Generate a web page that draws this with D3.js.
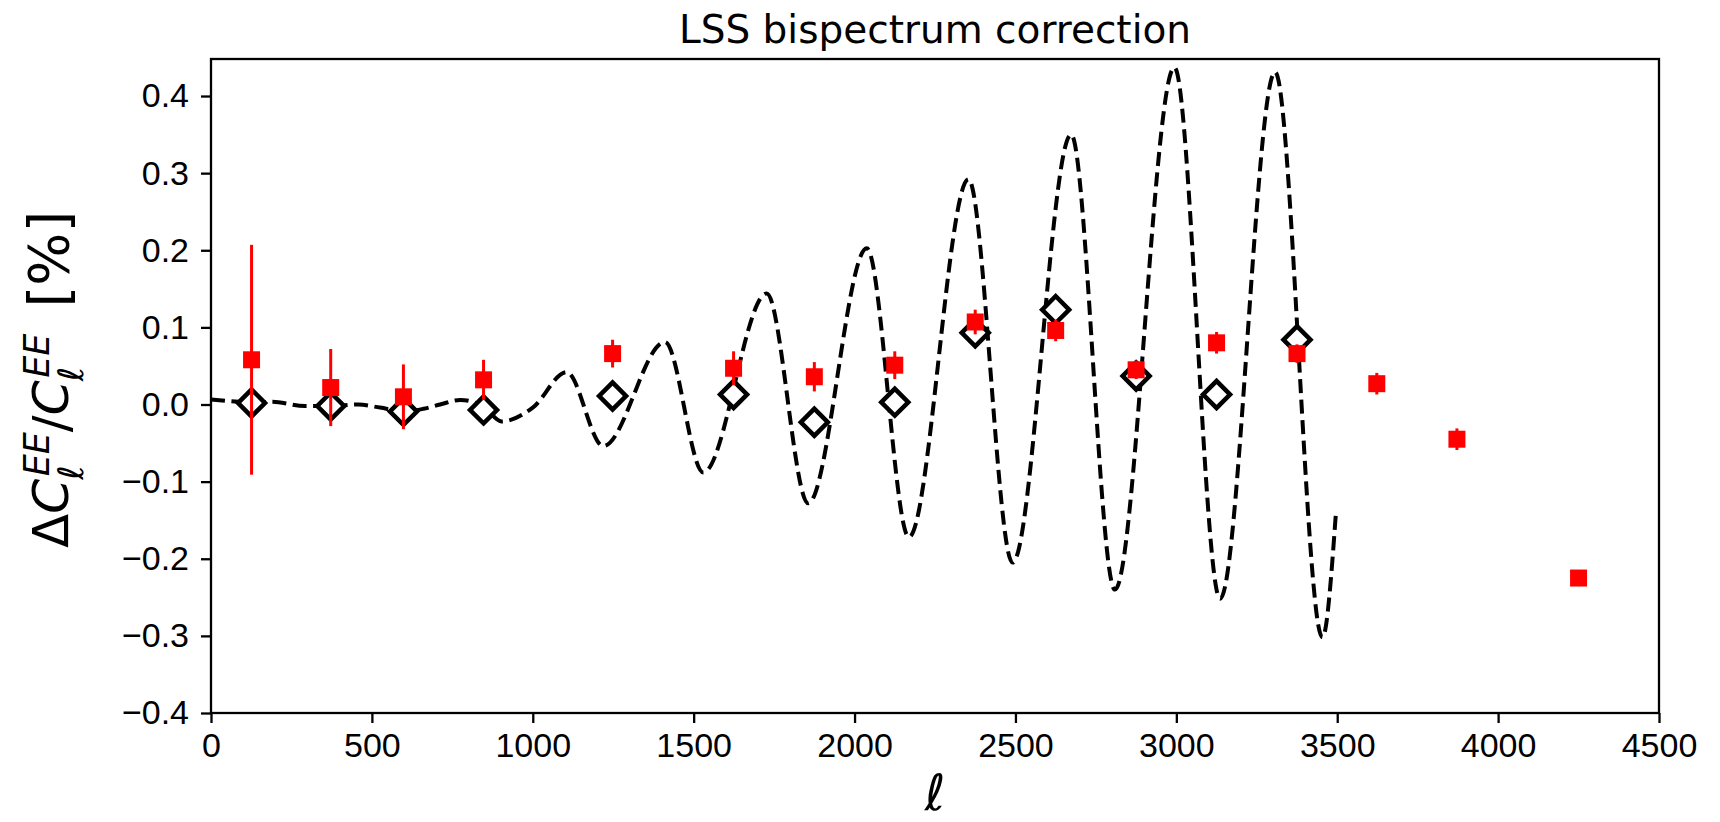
<!DOCTYPE html>
<html lang="en">
<head>
<meta charset="UTF-8">
<title>LSS bispectrum correction</title>
<script src="https://d3js.org/d3.v7.min.js"></script>
<style>
  body { margin: 0; background: #fff; }
  svg { display: block; font-family: "DejaVu Sans", sans-serif; }
  .tick text { font-size: 34px; fill: #000; }
  .tick line { stroke: #000; stroke-width: 2.3; }
</style>
</head>
<body>
<div id="chart"></div>
<script>
// multipole bin centres, shared by the measured points and the diamonds
const binEll = [126, 372, 598, 847, 1248, 1624, 1875, 2125, 2375, 2625, 2875, 3125, 3375, 3623, 3872, 4250];
// red squares with error bars
const measured    = [0.058, 0.022, 0.010, 0.032, 0.066, 0.047, 0.036, 0.051, 0.107, 0.096, 0.045, 0.080, 0.066, 0.027, -0.045, -0.225];
const measuredErr = [0.149, 0.050, 0.042, 0.026, 0.018, 0.022, 0.019, 0.018, 0.016, 0.014, 0.012, 0.014, 0.012, 0.014, 0.014, 0.008];
// open diamonds (binned prediction), first 13 bins only
const predicted = [0.002, -0.002, -0.009, -0.007, 0.011, 0.013, -0.023, 0.003, 0.093, 0.123, 0.037, 0.013, 0.084];
const theoryEll = [0, 126, 190, 292, 375, 458, 525, 600, 660, 712, 775, 850, 903, 1000, 1105, 1219, 1411, 1530, 1727, 1856, 2038, 2169, 2354, 2491, 2673, 2809, 2994, 3136, 3307, 3454, 3496];
const theoryVal = [0.0065, 0.003, 0.0035, -0.002, -0.002, 0.0, -0.004, -0.009, -0.0056, 0.0, 0.006, -0.004, -0.022, -0.004, 0.042, -0.054, 0.081, -0.088, 0.144, -0.128, 0.2025, -0.172, 0.292, -0.205, 0.350, -0.240, 0.437, -0.252, 0.431, -0.302, -0.140];

const xTicks = [0, 500, 1000, 1500, 2000, 2500, 3000, 3500, 4000, 4500];
const yTicks = [-0.4, -0.3, -0.2, -0.1, 0.0, 0.1, 0.2, 0.3, 0.4];

const W = 1720, H = 822;
const margin = {top: 59, right: 61, bottom: 109, left: 211};
const width = W - margin.left - margin.right,
      height = H - margin.top - margin.bottom;

const x = d3.scaleLinear().domain([0, 4500]).range([0, width]);
const y = d3.scaleLinear().domain([-0.4, 0.448]).range([height, 0]);

const svg = d3.select("#chart").append("svg")
    .attr("width", W).attr("height", H);
const g = svg.append("g")
    .attr("transform", "translate(" + margin.left + "," + margin.top + ")");

// theory curve
const theory = theoryEll.map((l, i) => ({l: l, v: theoryVal[i]}));
const line = d3.line()
    .x(d => x(d.l))
    .y(d => y(d.v))
    .curve(d3.curveMonotoneX);
g.append("path")
    .datum(theory)
    .attr("d", line)
    .attr("fill", "none")
    .attr("stroke", "#000")
    .attr("stroke-width", 4)
    .attr("stroke-dasharray", "14,6.5");

// diamonds
const diamond = d3.symbol().type(d3.symbolSquare).size(364);
g.selectAll(".pred")
    .data(predicted)
    .enter().append("path")
    .attr("class", "pred")
    .attr("d", diamond)
    .attr("transform", (d, i) => "translate(" + x(binEll[i]) + "," + y(d) + ") rotate(45)")
    .attr("fill", "#fff")
    .attr("stroke", "#000")
    .attr("stroke-width", 4.5);

// measured points with error bars
g.selectAll(".err")
    .data(measured)
    .enter().append("line")
    .attr("class", "err")
    .attr("x1", (d, i) => x(binEll[i]))
    .attr("x2", (d, i) => x(binEll[i]))
    .attr("y1", (d, i) => y(d - measuredErr[i]))
    .attr("y2", (d, i) => y(d + measuredErr[i]))
    .attr("stroke", "#ff0000")
    .attr("stroke-width", 3);

const square = d3.symbol().type(d3.symbolSquare).size(289);
g.selectAll(".meas")
    .data(measured)
    .enter().append("path")
    .attr("class", "meas")
    .attr("d", square)
    .attr("transform", (d, i) => "translate(" + x(binEll[i]) + "," + y(d) + ")")
    .attr("fill", "#ff0000");

// axes
g.append("g")
    .attr("transform", "translate(0," + height + ")")
    .call(d3.axisBottom(x).tickValues(xTicks).tickSize(10).tickPadding(10).tickFormat(d3.format("d")))
    .call(a => a.select(".domain").remove());

g.append("g")
    .call(d3.axisLeft(y).tickValues(yTicks).tickSize(10).tickPadding(12).tickFormat(d3.format(".1f")))
    .call(a => a.select(".domain").remove());

g.append("rect")
    .attr("width", width).attr("height", height)
    .attr("fill", "none")
    .attr("stroke", "#000")
    .attr("stroke-width", 2.3);

// title
svg.append("text")
    .attr("x", margin.left + width / 2)
    .attr("y", 43)
    .attr("text-anchor", "middle")
    .style("font-size", "39px")
    .text("LSS bispectrum correction");

// x label
svg.append("text")
    .attr("x", margin.left + width / 2)
    .attr("y", 810)
    .attr("text-anchor", "middle")
    .style("font-size", "50px")
    .style("font-style", "italic")
    .text("ℓ");

// y label, laid out piece by piece like mathtext
function mathText(sel, pieces, size) {
    let cx = 0;
    pieces.forEach(p => {
        const fs = p.size || size;
        const t = sel.append("text")
            .attr("x", cx).attr("y", 0)
            .style("font-size", fs + "px")
            .style("font-style", p.it ? "italic" : "normal")
            .text(p.t);
        const w = t.node().getComputedTextLength();
        let adv = w;
        if (p.sup || p.sub) {
            const s = size * 0.7;
            let wSup = 0, wSub = 0;
            if (p.sup) {
                const ts = sel.append("text")
                    .attr("x", cx + w + size * 0.05).attr("y", -size * 0.38)
                    .style("font-size", s + "px").style("font-style", "italic")
                    .text(p.sup);
                wSup = ts.node().getComputedTextLength() + size * 0.05;
            }
            if (p.sub) {
                const tb = sel.append("text")
                    .attr("x", cx + w - size * 0.02).attr("y", size * 0.3)
                    .style("font-size", s + "px").style("font-style", "italic")
                    .text(p.sub);
                wSub = tb.node().getComputedTextLength() - size * 0.02;
            }
            adv = w + Math.max(wSup, wSub);
        }
        cx += adv + (p.gap || 0);
    });
    return cx;
}

const ylab = svg.append("g");
mathText(ylab, [
    {t: "Δ"},
    {t: "C", it: true, sup: "EE", sub: "ℓ"},
    {t: "/"},
    {t: "C", it: true, sup: "EE", sub: "ℓ", gap: 26},
    {t: "[%]", size: 56}
], 50);
ylab.attr("transform", "translate(68,548) rotate(-90)");
</script>
</body>
</html>
